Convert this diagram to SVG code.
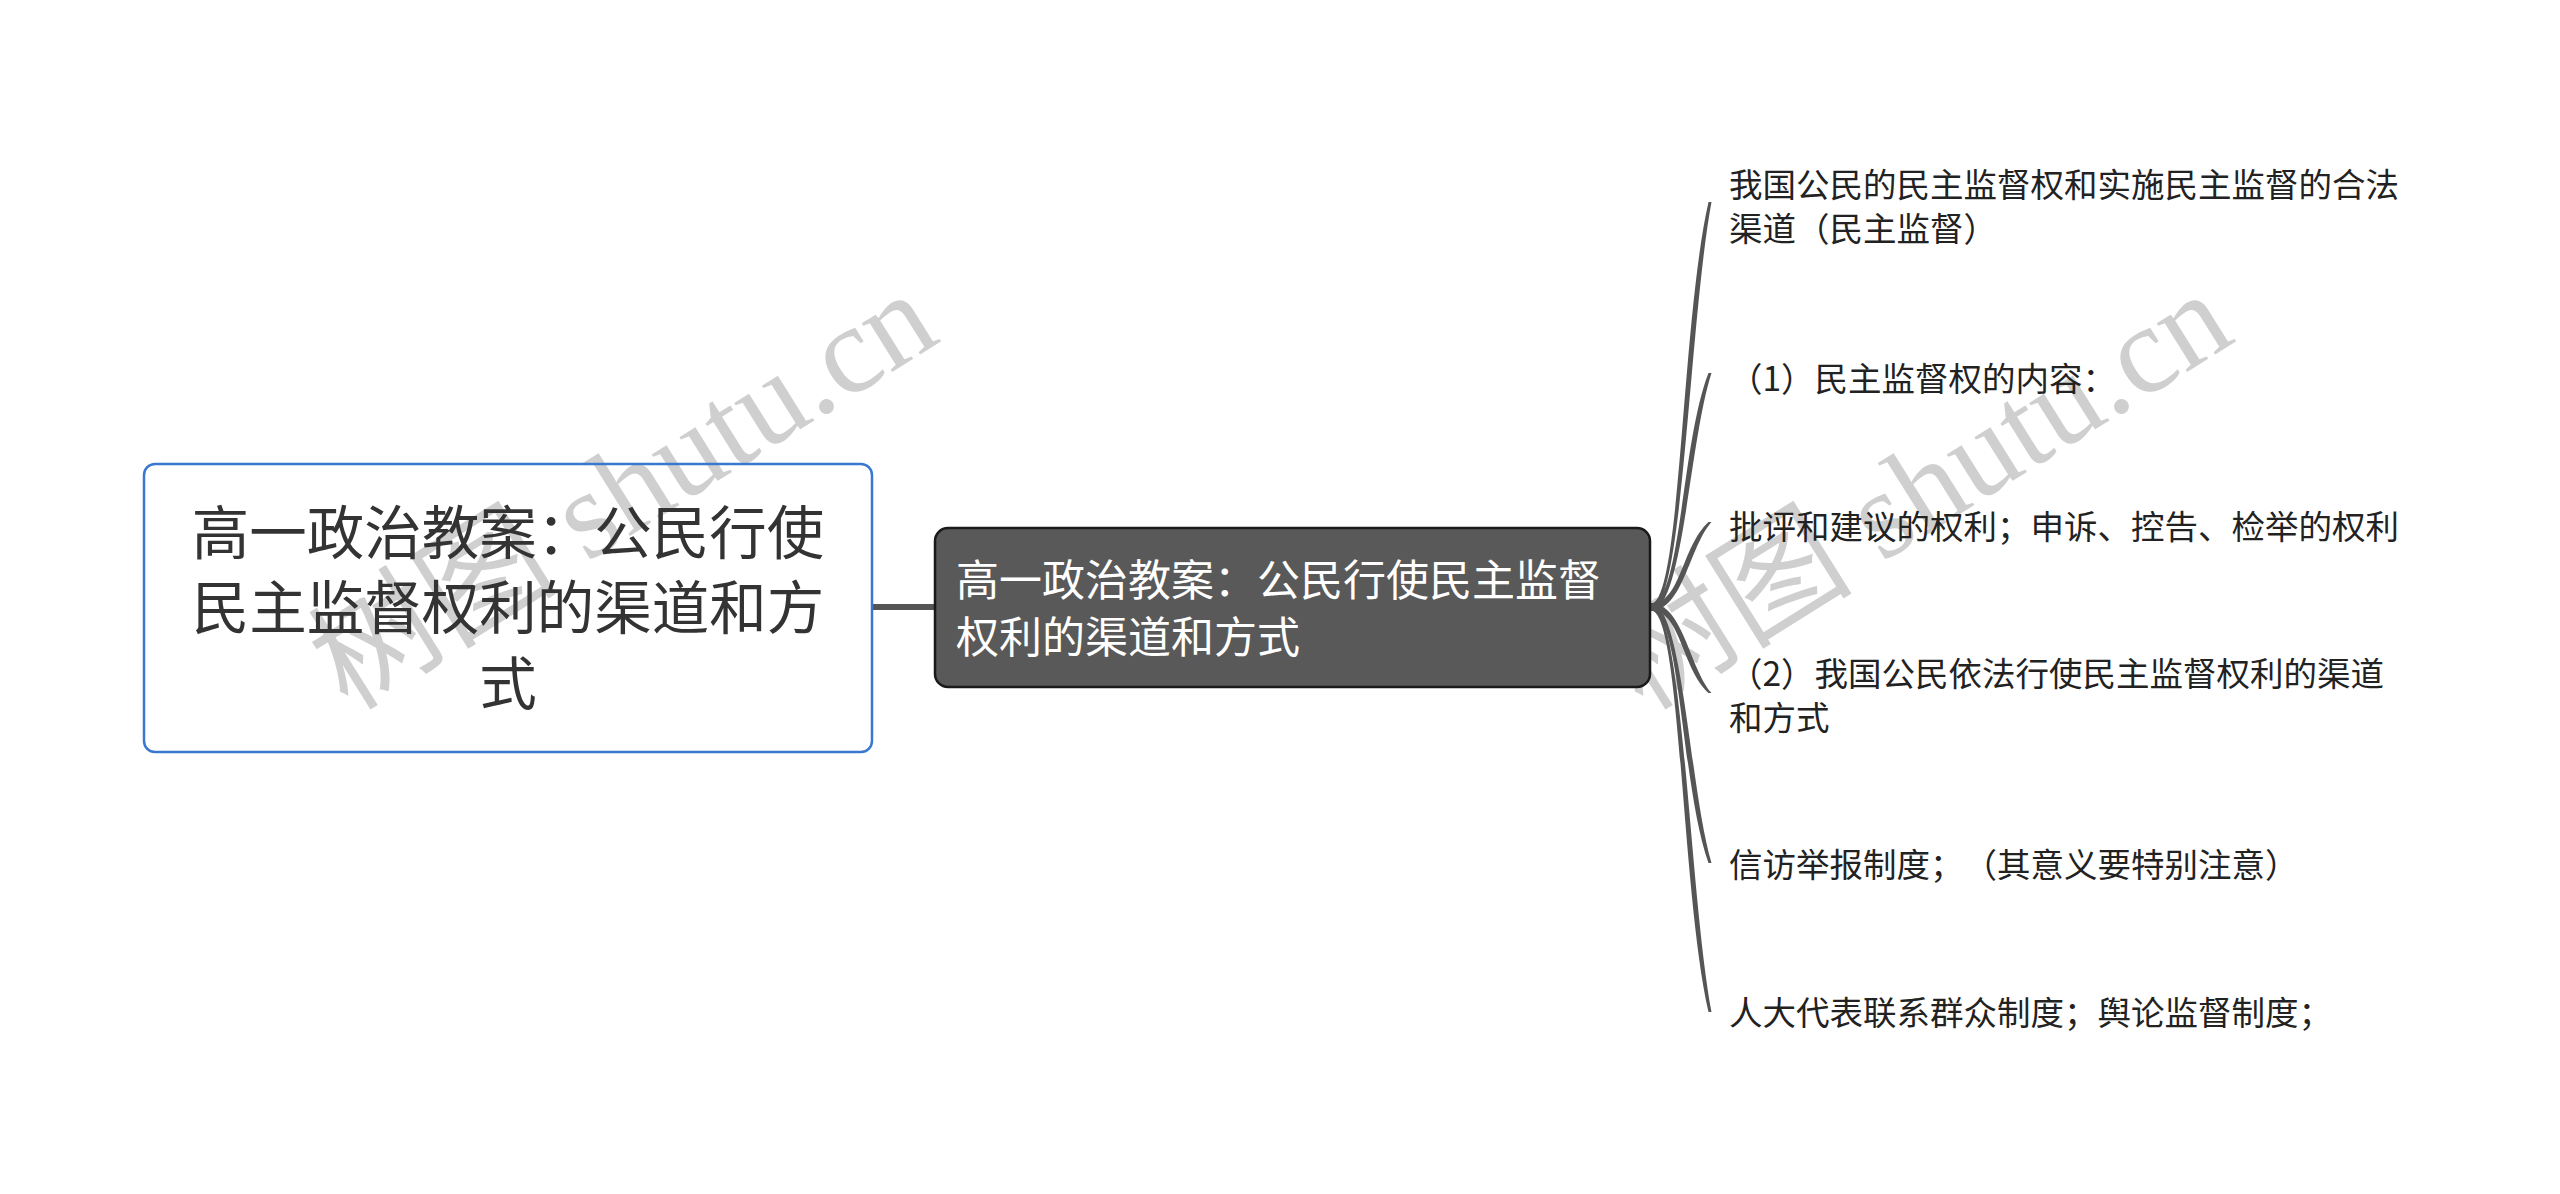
<svg xmlns="http://www.w3.org/2000/svg" width="2560" height="1194" viewBox="0 0 2560 1194">
<style>
text{text-spacing-trim:space-all}
.wm{font-family:"Liberation Serif","Noto Sans CJK SC",serif;font-size:125px;fill:#a0a0a0;fill-opacity:0.5}
.root-t{font-family:"Noto Sans CJK SC","Noto Sans",sans-serif;font-size:57.5px;fill:#333333;text-anchor:middle}
.main-t{font-family:"Noto Sans CJK SC","Noto Sans",sans-serif;font-size:43px;fill:#ffffff}
.leaf-t{font-family:"Noto Sans CJK SC","Noto Sans",sans-serif;font-size:33.5px;fill:#222222}
.conn{fill:#555555;stroke:none}
</style>
<rect x="0" y="0" width="2560" height="1194" fill="#ffffff"/>
<g id="watermarks">
<text class="wm" x="348" y="712" transform="rotate(-32 348 712)">树图 shutu.cn</text>
<text class="wm" x="1643" y="712" transform="rotate(-32 1643 712)">树图 shutu.cn</text>
</g>
<g id="connectors">
<line x1="872" y1="607" x2="936" y2="607" stroke="#555555" stroke-width="6"/>
<path class="conn" d="M1651 603.5 C1681 603.5 1681 323.5 1708.5 202 L1711.5 202 C1689 323.5 1683 610.5 1651 610.5 Z"/>
<path class="conn" d="M1651 603.5 C1681 603.5 1681 443 1708.5 373 L1711.5 373 C1689 443 1683 610.5 1651 610.5 Z"/>
<path class="conn" d="M1651 603.5 C1681 603.5 1681 547.5 1708.5 522 L1711.5 522 C1689 547.5 1683 610.5 1651 610.5 Z"/>
<path class="conn" d="M1651 603.5 C1683 603.5 1689 667 1711.5 693 L1708.5 693 C1681 667 1681 610.5 1651 610.5 Z"/>
<path class="conn" d="M1651 603.5 C1683 603.5 1689 786 1711.5 863 L1708.5 863 C1681 786 1681 610.5 1651 610.5 Z"/>
<path class="conn" d="M1651 603.5 C1683 603.5 1689 890.5 1711.5 1012 L1708.5 1012 C1681 890.5 1681 610.5 1651 610.5 Z"/>
</g>
<g id="root">
<rect x="144" y="464" width="728" height="288" rx="11" ry="11" fill="none" stroke="#3a78d0" stroke-width="2.5"/>
<text class="root-t" x="508" y="554">高一政治教案：公民行使</text>
<text class="root-t" x="508" y="629">民主监督权利的渠道和方</text>
<text class="root-t" x="508" y="705">式</text>
</g>
<g id="main">
<rect x="935" y="528" width="715" height="159" rx="13" ry="13" fill="#595959" stroke="#1a1a1a" stroke-width="2.5"/>
<text class="main-t" x="956" y="596">高一政治教案：公民行使民主监督</text>
<text class="main-t" x="956" y="653">权利的渠道和方式</text>
</g>
<g id="leaf1">
<text class="leaf-t" x="1729" y="197">我国公民的民主监督权和实施民主监督的合法</text>
<text class="leaf-t" x="1729" y="241">渠道（民主监督）</text>
</g>
<g id="leaf2">
<text class="leaf-t" x="1729" y="391">（1）民主监督权的内容：</text>
</g>
<g id="leaf3">
<text class="leaf-t" x="1729" y="539">批评和建议的权利；申诉、控告、检举的权利</text>
</g>
<g id="leaf4">
<text class="leaf-t" x="1729" y="686">（2）我国公民依法行使民主监督权利的渠道</text>
<text class="leaf-t" x="1729" y="730">和方式</text>
</g>
<g id="leaf5">
<text class="leaf-t" x="1729" y="877">信访举报制度；（其意义要特别注意）</text>
</g>
<g id="leaf6">
<text class="leaf-t" x="1729" y="1025">人大代表联系群众制度；舆论监督制度；</text>
</g>
</svg>
